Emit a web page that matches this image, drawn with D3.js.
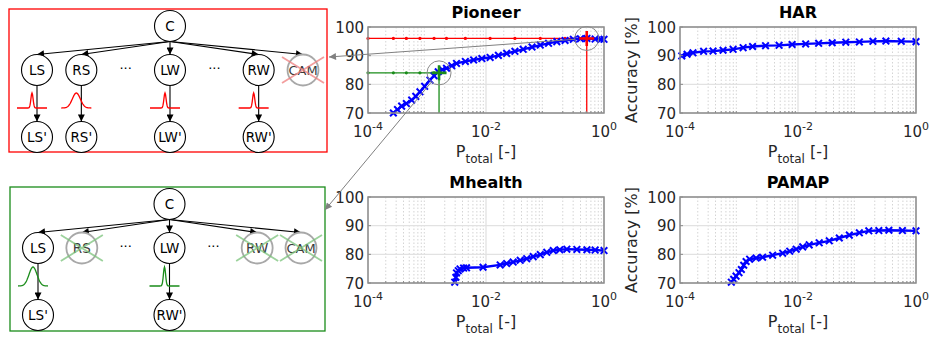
<!DOCTYPE html>
<html>
<head>
<meta charset="utf-8">
<script src="https://cdn.jsdelivr.net/npm/d3@7"></script>
<style>
  body { margin: 0; background: #fff; }
  svg { display: block; font-family: "DejaVu Sans", sans-serif; }
</style>
</head>
<body>
<svg id="fig" width="929" height="340"></svg>
<script>
// ---- chart data (log10 of P_total, accuracy in %) ----
const pioneerLogP = [-3.57,-3.50,-3.43,-3.35,-3.26,-3.19,-3.12,-3.04,-2.95,-2.88,-2.81,-2.74,-2.67,-2.58,-2.50,-2.35,-2.21,-2.07,-1.93,-1.79,-1.65,-1.51,-1.37,-1.22,-1.08,-0.94,-0.80,-0.66,-0.52,-0.40,-0.29,-0.15,-0.05,0];
const pioneerAcc  = [70.0,71.2,72.4,73.3,74.5,75.8,77.4,79.3,81.5,83.0,84.4,85.1,85.6,86.5,87.3,88.0,88.5,89.0,89.4,90.1,90.8,91.5,92.2,93.0,93.7,94.3,94.9,95.3,95.7,95.9,96.0,95.8,95.7,95.7];

const harLogP = [-3.97,-3.88,-3.78,-3.60,-3.44,-3.27,-3.10,-2.93,-2.77,-2.55,-2.32,-2.10,-1.87,-1.65,-1.42,-1.19,-0.96,-0.73,-0.51,-0.25,0];
const harAcc  = [89.9,90.5,91.0,91.5,91.6,91.9,92.2,92.8,93.2,93.5,93.6,93.9,94.1,94.3,94.5,94.7,94.8,95.0,95.1,95.0,94.9];

const mhealthLogP = [-2.53,-2.51,-2.50,-2.47,-2.44,-2.38,-2.33,-2.05,-1.76,-1.65,-1.54,-1.42,-1.31,-1.20,-1.08,-0.97,-0.86,-0.75,-0.63,-0.46,-0.29,-0.15,0];
const mhealthAcc  = [70.3,72.0,73.5,74.3,74.9,75.2,75.3,75.5,76.3,76.8,77.3,77.9,78.5,79.2,79.9,80.7,81.3,81.6,81.8,81.7,81.6,81.5,81.3];

const pamapLogP = [-3.13,-3.09,-3.05,-3.00,-2.96,-2.92,-2.88,-2.82,-2.71,-2.60,-2.43,-2.26,-2.14,-2.03,-1.92,-1.81,-1.64,-1.47,-1.30,-1.13,-0.96,-0.80,-0.63,-0.46,-0.23,0];
const pamapAcc  = [70.3,71.3,72.4,73.6,74.7,76.2,77.5,78.3,78.7,79.0,79.7,80.4,81.1,81.8,82.6,83.3,84.0,84.7,85.7,86.7,87.5,88.2,88.3,88.4,88.3,88.2];

// selected operating points on Pioneer [P_total, accuracy]
const redPoint = [0.51, 96];
const greenPoint = [0.0016, 84];

const xTickExp = [-4, -2, 0];
const yTicks = [70, 80, 90, 100];

// diagram content
const diagramCols = ['LS', 'RS', 'dots1', 'LW', 'dots2', 'RW', 'CAM'];
const redCrossed = ['CAM'];
const redLeaves = [['LS', "LS'"], ['RS', "RS'"], ['LW', "LW'"], ['RW', "RW'"]];
const redGlyphs = [['LS', 'narrow'], ['RS', 'wide'], ['LW', 'narrow'], ['RW', 'narrow']];
const greenCrossed = ['RS', 'RW', 'CAM'];
const greenLeaves = [['LS', "LS'"], ['LW', "RW'"]];
const greenGlyphs = [['LS', 'wide'], ['LW', 'narrow']];

// ---- drawing ----
const svg = d3.select('#fig');
const defs = svg.append('defs');

function arrowMarker(id, color, w, h) {
  defs.append('marker')
    .attr('id', id)
    .attr('viewBox', '0 0 10 10')
    .attr('refX', 10).attr('refY', 5)
    .attr('markerUnits', 'userSpaceOnUse')
    .attr('markerWidth', w).attr('markerHeight', h)
    .attr('orient', 'auto')
    .append('path').attr('d', 'M0,0 L10,5 L0,10 z').attr('fill', color);
}
arrowMarker('arr', '#000', 9, 7);
arrowMarker('garr', '#808080', 11, 7);

const panelW = 236, panelH = 86;
const panels = [
  { title: 'Pioneer', left: 368, top: 27, logP: pioneerLogP, acc: pioneerAcc, ylab: false },
  { title: 'HAR',     left: 680, top: 27, logP: harLogP,     acc: harAcc,     ylab: true },
  { title: 'Mhealth', left: 368, top: 197, logP: mhealthLogP, acc: mhealthAcc, ylab: false },
  { title: 'PAMAP',   left: 680, top: 197, logP: pamapLogP,   acc: pamapAcc,   ylab: true }
];

const minorTicks = [];
for (let e = -4; e < 0; e++) for (let k = 2; k <= 9; k++) minorTicks.push(k * Math.pow(10, e));

const scales = {};

panels.forEach(p => {
  const x = d3.scaleLog().domain([1e-4, 1]).range([p.left, p.left + panelW]);
  const y = d3.scaleLinear().domain([70, 100]).range([p.top + panelH, p.top]);
  scales[p.title] = { x, y };
  const g = svg.append('g');

  // minor grid
  g.selectAll('line.mgrid').data(minorTicks).join('line')
    .attr('x1', d => x(d)).attr('x2', d => x(d))
    .attr('y1', p.top).attr('y2', p.top + panelH)
    .attr('stroke', '#d4d4d4').attr('stroke-width', 1)
    .attr('stroke-dasharray', '1.5,2');

  // major grid
  g.selectAll('line.xgrid').data(xTickExp).join('line')
    .attr('x1', d => x(Math.pow(10, d))).attr('x2', d => x(Math.pow(10, d)))
    .attr('y1', p.top).attr('y2', p.top + panelH)
    .attr('stroke', '#e2e2e2').attr('stroke-width', 1.3);
  g.selectAll('line.ygrid').data(yTicks).join('line')
    .attr('x1', p.left).attr('x2', p.left + panelW)
    .attr('y1', d => y(d)).attr('y2', d => y(d))
    .attr('stroke', '#e2e2e2').attr('stroke-width', 1.3);

  // Pioneer operating points (lines first)
  if (p.title === 'Pioneer') {
    const ops = [[redPoint, '#ff0000'], [greenPoint, '#1a8c1a']];
    ops.forEach(([pt, c]) => {
      g.append('line')
        .attr('x1', x(1e-4)).attr('x2', x(pt[0]))
        .attr('y1', y(pt[1])).attr('y2', y(pt[1]))
        .attr('stroke', c).attr('stroke-width', 1.3);
      g.append('line')
        .attr('x1', x(pt[0])).attr('x2', x(pt[0]))
        .attr('y1', y(pt[1])).attr('y2', y(70))
        .attr('stroke', c).attr('stroke-width', 1.3);
      const dots = pioneerLogP.filter((d, i) => i % 3 === 0 && Math.pow(10, d) < pt[0]);
      g.selectAll(null).data([-4, ...dots]).join('circle')
        .attr('cx', d => x(Math.pow(10, d))).attr('cy', y(pt[1]))
        .attr('r', 1.6).attr('fill', c);
    });
  }

  // series line
  const pts = p.logP.map((e, i) => [Math.pow(10, e), p.acc[i]]);
  g.append('path')
    .attr('d', d3.line().x(d => x(d[0])).y(d => y(d[1]))(pts))
    .attr('fill', 'none').attr('stroke', '#0000ff').attr('stroke-width', 2.4);
  const s = 3.3;
  g.selectAll('path.mk').data(pts).join('path')
    .attr('d', d => {
      const cx = x(d[0]), cy = y(d[1]);
      return `M${cx - s},${cy - s}L${cx + s},${cy + s}M${cx - s},${cy + s}L${cx + s},${cy - s}`;
    })
    .attr('stroke', '#0000ff').attr('stroke-width', 2);

  if (p.title === 'Pioneer') {
    [[redPoint, '#ff0000'], [greenPoint, '#1a8c1a']].forEach(([pt, c]) => {
      const cx = x(pt[0]), cy = y(pt[1]), h = 7.5;
      g.append('path')
        .attr('d', `M${cx - h},${cy}L${cx + h},${cy}M${cx},${cy - h}L${cx},${cy + h}`)
        .attr('stroke', c).attr('stroke-width', 2.6);
      g.append('circle').attr('cx', cx).attr('cy', cy).attr('r', 12)
        .attr('fill', 'none').attr('stroke', '#8a8a8a').attr('stroke-width', 1);
    });
  }

  // box
  g.append('rect')
    .attr('x', p.left).attr('y', p.top).attr('width', panelW).attr('height', panelH)
    .attr('fill', 'none').attr('stroke', '#8c8c8c').attr('stroke-width', 1.5);

  // ticks (inside)
  g.selectAll('line.mt').data(minorTicks).join('line')
    .attr('x1', d => x(d)).attr('x2', d => x(d))
    .attr('y1', p.top + panelH).attr('y2', p.top + panelH - 2)
    .attr('stroke', '#8c8c8c');
  g.selectAll('line.yt').data(yTicks).join('line')
    .attr('x1', p.left).attr('x2', p.left + 3)
    .attr('y1', d => y(d)).attr('y2', d => y(d))
    .attr('stroke', '#8c8c8c');

  // y tick labels
  g.selectAll('text.yl').data(yTicks).join('text')
    .attr('x', p.left - 4).attr('y', d => y(d) + 5.5)
    .attr('text-anchor', 'end').attr('font-size', 15).attr('fill', '#262626')
    .text(d => d);

  // x tick labels 10^e
  xTickExp.forEach(e => {
    const t = g.append('text')
      .attr('x', x(Math.pow(10, e))).attr('y', p.top + panelH + 23.5)
      .attr('text-anchor', 'middle').attr('font-size', 15).attr('fill', '#262626');
    t.append('tspan').text('10');
    t.append('tspan').attr('dy', -7).attr('font-size', 11).text(e === 0 ? '0' : String(e));
  });

  // x label
  const xl = g.append('text')
    .attr('x', p.left + panelW / 2).attr('y', p.top + panelH + 44)
    .attr('text-anchor', 'middle').attr('font-size', 16).attr('fill', '#262626');
  xl.append('tspan').text('P');
  xl.append('tspan').attr('dy', 6).attr('font-size', 12).text('total');
  xl.append('tspan').attr('dy', -6).text(' [-]');

  // title
  g.append('text')
    .attr('x', p.left + panelW / 2).attr('y', p.top - 9)
    .attr('text-anchor', 'middle').attr('font-size', 16).attr('font-weight', 'bold')
    .attr('fill', '#000').text(p.title);

  if (p.ylab) {
    g.append('text')
      .attr('transform', `translate(${p.left - 43},${p.top + panelH / 2}) rotate(-90)`)
      .attr('text-anchor', 'middle').attr('font-size', 16).attr('fill', '#262626')
      .text('Accuracy [%]');
  }
});

// ---- diagrams ----
function drawDiagram(cfg) {
  const g = svg.append('g');
  const col = d3.scalePoint().domain(diagramCols).range([cfg.left + 28, cfg.right - 24]);
  const rowC = cfg.top + 17, rowM = cfg.top + 61, rowL = cfg.top + 128, rowG = cfg.top + 99;
  const r = 15.5;
  const cx = col('LW');

  g.append('rect')
    .attr('x', cfg.left).attr('y', cfg.top)
    .attr('width', cfg.right - cfg.left).attr('height', cfg.bottom - cfg.top)
    .attr('fill', '#fff').attr('stroke', cfg.color).attr('stroke-width', 1.3);

  const mids = diagramCols.filter(d => !d.startsWith('dots'));

  // arrows from C
  g.selectAll(null).data(mids).join('line')
    .attr('x1', cx).attr('y1', rowC + r)
    .attr('x2', d => col(d)).attr('y2', rowM - r)
    .attr('stroke', '#000').attr('stroke-width', 1.1)
    .attr('marker-end', 'url(#arr)');

  // vertical arrows
  g.selectAll(null).data(cfg.leaves).join('line')
    .attr('x1', d => col(d[0])).attr('y1', rowM + r)
    .attr('x2', d => col(d[0])).attr('y2', rowL - r)
    .attr('stroke', '#000').attr('stroke-width', 1.1)
    .attr('marker-end', 'url(#arr)');

  // distribution glyphs
  g.selectAll(null).data(cfg.glyphs).join('path')
    .attr('d', d => {
      const gx = col(d[0]) - 5, sig = d[1] === 'wide' ? 4 : 1.1;
      const pts = d3.range(-15, 15.01, 0.5).map(t => [gx + t, rowG - cfg.glyphH * Math.exp(-t * t / (2 * sig * sig))]);
      return d3.line()(pts);
    })
    .attr('fill', 'none').attr('stroke', cfg.color).attr('stroke-width', 1.3);

  const node = (name, xx, yy, crossed) => {
    g.append('circle').attr('cx', xx).attr('cy', yy).attr('r', r)
      .attr('fill', '#fff')
      .attr('stroke', crossed ? '#a8a8a8' : '#000')
      .attr('stroke-width', crossed ? 1.8 : 1.1);
    g.append('text').attr('x', xx).attr('y', yy + 5)
      .attr('text-anchor', 'middle').attr('font-size', name === 'CAM' ? 13 : 13.5)
      .attr('fill', crossed ? '#3a3a3a' : '#000').text(name);
    if (crossed) {
      g.append('path')
        .attr('d', `M${xx - 21},${yy - 13}L${xx + 21},${yy + 13}M${xx - 21},${yy + 13}L${xx + 21},${yy - 13}`)
        .attr('stroke', cfg.crossColor).attr('stroke-width', 1.8).attr('opacity', 0.75);
    }
  };

  node('C', cx, rowC, false);
  diagramCols.forEach(d => {
    if (d.startsWith('dots')) {
      g.append('text').attr('x', col(d)).attr('y', rowM + 3)
        .attr('text-anchor', 'middle').attr('font-size', 13).text('···');
    } else {
      node(d, col(d), rowM, cfg.crossed.includes(d));
    }
  });
  cfg.leaves.forEach(d => node(d[1], col(d[0]), rowL, false));
}

drawDiagram({ left: 9, top: 9, right: 327, bottom: 152, color: '#ff0000', crossColor: '#f08080',
  crossed: redCrossed, leaves: redLeaves, glyphs: redGlyphs, glyphH: 15 });
drawDiagram({ left: 10, top: 187, right: 325, bottom: 331, color: '#1a8c1a', crossColor: '#7cc47c',
  crossed: greenCrossed, leaves: greenLeaves, glyphs: greenGlyphs, glyphH: 19 });

// ---- pointer lines from Pioneer circles to diagrams ----
const ps = scales['Pioneer'];
function pointer(pt, tx, ty) {
  const cx = ps.x(pt[0]), cy = ps.y(pt[1]);
  const dx = tx - cx, dy = ty - cy, L = Math.hypot(dx, dy);
  svg.append('line')
    .attr('x1', cx + 12 * dx / L).attr('y1', cy + 12 * dy / L)
    .attr('x2', tx).attr('y2', ty)
    .attr('stroke', '#808080').attr('stroke-width', 1)
    .attr('marker-end', 'url(#garr)');
}
pointer(redPoint, 329, 57);
pointer(greenPoint, 325, 210);
</script>
</body>
</html>
